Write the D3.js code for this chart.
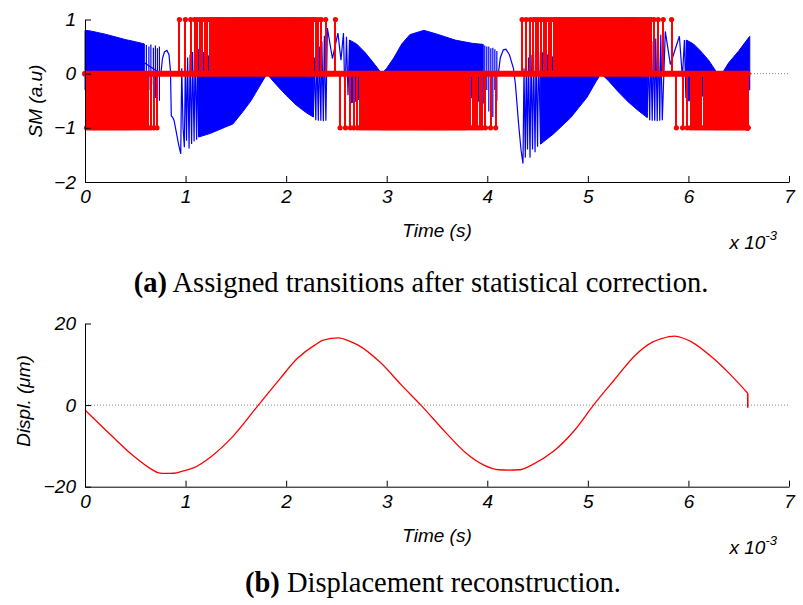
<!DOCTYPE html>
<html>
<head>
<meta charset="utf-8">
<script src="https://cdn.jsdelivr.net/npm/d3@7"></script>
<style>
  body { margin: 0; background: #fff; }
  svg { display: block; }
  .axis text { font-family: "Liberation Sans", Arial, sans-serif; font-style: italic; font-size: 19px; fill: #000; }
  .axis path, .axis line { stroke: #000; stroke-width: 1; }
  .lab { font-family: "Liberation Sans", Arial, sans-serif; font-style: italic; font-size: 19px; }
  .cap { font-family: "Liberation Serif", "Times New Roman", serif; font-size: 28.5px; }
</style>
</head>
<body>
<svg id="fig" width="803" height="605"></svg>
<script>
// ---- data (time in ms, shown as x 10^-3 s) ----
var timeTicks = [0, 1, 2, 3, 4, 5, 6, 7];
var smTicks = [-2, -1, 0, 1];
var displTicks = [-20, 0, 20];

// reconstructed displacement (um)
var dispT = [0, 0.26, 0.474, 0.647, 0.733, 0.797, 0.884, 0.97, 1.078, 1.25, 1.466, 1.724, 1.94, 2.11, 2.284, 2.37, 2.52,
  2.63, 2.716, 2.93, 3.147, 3.34, 3.578, 3.79, 3.966, 4.116, 4.22, 4.32, 4.44, 4.655, 4.87, 5.056, 5.26, 5.474,
  5.647, 5.733, 5.86, 5.97, 6.03, 6.25, 6.42, 6.59, 6.59];
var dispV = [-1.2, -7.4, -12.3, -15.5, -16.6, -16.75, -16.7, -16.2, -15.4, -12.7, -7.8, 0, 6.5, 11.4, 14.7, 15.9, 16.5,
  15.7, 14.7, 10.6, 4.9, 0, -6.5, -11.8, -14.7, -15.85, -15.95, -15.85, -14.7, -11.4, -6.1, 0, 6.1, 12.3,
  15.5, 16.3, 16.9, 16.2, 15.5, 11.4, 7.4, 2.9, -0.65];
// one transition = half a wavelength of displacement (um)
var fringeStep = 0.39;

// SM signal, dense parts: [t, upper, lower] envelope
var bandA = [[0, 0.80, -0.3], [0.05, 0.79, -0.3], [0.1, 0.77, -0.3], [0.2, 0.73, -0.3], [0.3, 0.68, -0.35], [0.4, 0.63, -0.45], [0.5, 0.59, -0.5], [0.59, 0.55, -0.5]];
var bandB = [[1.13, 0.45, -1.17], [1.25, 0.3, -1.10], [1.39, 0.2, -0.99], [1.47, 0.2, -0.93], [1.57, 0.2, -0.70], [1.65, 0.15, -0.50], [1.73, 0.1, -0.25], [1.81, 0, 0]];
var bandC = [[1.81, 0, 0], [1.83, 0.05, -0.05], [1.9, 0.1, -0.2], [2.0, 0.15, -0.4], [2.1, 0.2, -0.58], [2.2, 0.3, -0.72], [2.27, 0.3, -0.8]];
var bandD = [[2.63, 0.62, -0.55], [2.7, 0.55, -0.5], [2.78, 0.4, -0.4], [2.86, 0.22, -0.2], [2.95, 0, 0]];
var bandE = [[2.95, 0, 0], [3.0, 0.1, -0.1], [3.07, 0.29, -0.2], [3.15, 0.55, -0.2], [3.23, 0.72, -0.2], [3.37, 0.80, -0.2], [3.5, 0.73, -0.2], [3.68, 0.62, -0.3], [3.85, 0.56, -0.45], [3.96, 0.54, -0.55]];
var bandF = [[4.53, 0.4, -1.3], [4.66, 0.3, -1.11], [4.83, 0.2, -0.81], [4.99, 0.15, -0.44], [5.08, 0.1, -0.15], [5.13, 0, 0]];
var bandG = [[5.13, 0, 0], [5.2, 0.1, -0.12], [5.3, 0.15, -0.33], [5.4, 0.2, -0.52], [5.5, 0.3, -0.68], [5.59, 0.3, -0.81]];
var bandH = [[5.98, 0.62, -0.5], [6.05, 0.55, -0.5], [6.12, 0.42, -0.45], [6.2, 0.25, -0.3], [6.29, 0, 0]];
var bandI = [[6.29, 0, 0], [6.34, 0.02, -0.1], [6.4, 0.2, -0.2], [6.5, 0.42, -0.3], [6.58, 0.62, -0.3], [6.61, 0.69, -0.3]];

// single fringes that are still visible: [t, lower, upper]
var spikesA = [[0.61, -0.55, 0.53], [0.635, -0.3, 0.5], [0.655, -0.5, 0.54], [0.68, -0.2, 0.48], [0.70, -0.45, 0.52], [0.72, -0.3, 0.47], [0.74, -0.5, 0.5]];
var spikesE = [[3.975, -0.6, 0.52], [3.995, -0.3, 0.5], [4.015, -0.7, 0.5], [4.035, -0.2, 0.47], [4.055, -0.8, 0.48], [4.075, -0.3, 0.45], [4.095, -0.5, 0.42]];

// resolved stretches near the turning points: [t, value]
var trace1 = [[0.59, 0.2], [0.755, 0], [0.77, 0.28], [0.79, 0.40], [0.815, 0.43], [0.835, 0.35], [0.85, 0.05], [0.858, -0.78], [0.87, -0.8], [0.885, -0.86],
  [0.905, -1.05], [0.93, -1.3], [0.952, -1.48], [0.962, 0.1], [0.975, -1.0], [0.988, -1.36], [0.998, 0.2], [1.01, -1.24], [1.02, 0.3],
  [1.035, -1.38], [1.045, 0.35], [1.06, -1.3], [1.07, 0.4], [1.085, -1.25], [1.095, 0.45], [1.11, -1.22], [1.12, 0.45], [1.13, -1.17]];
var trace2 = [[2.27, -0.8], [2.28, 0.3], [2.295, -0.86], [2.305, 0.4], [2.32, -0.87], [2.33, 0.5], [2.345, -0.87], [2.355, 0.6], [2.37, -0.88],
  [2.38, 0.7], [2.395, -0.87], [2.41, 0.84], [2.46, 0.28], [2.515, 0.75], [2.545, 0.25], [2.57, 0.75], [2.585, -0.5], [2.60, 0.68],
  [2.615, -0.4], [2.63, 0.62]];
var trace3 = [[4.11, 0], [4.13, 0.3], [4.16, 0.44], [4.185, 0.45], [4.22, 0.35], [4.26, 0.1], [4.28, -0.2], [4.31, -0.9], [4.335, -1.4],
  [4.355, -1.66], [4.365, 0.1], [4.378, -1.55], [4.388, 0.2], [4.40, -1.4], [4.41, 0.3], [4.425, -1.55], [4.435, 0.35], [4.45, -1.4],
  [4.46, 0.4], [4.475, -1.45], [4.485, 0.4], [4.5, -1.35], [4.51, 0.4], [4.53, -1.3]];
var trace4 = [[5.59, -0.81], [5.60, 0.4], [5.615, -0.86], [5.625, 0.5], [5.64, -0.87], [5.65, 0.6], [5.665, -0.87], [5.675, 0.65],
  [5.69, -0.88], [5.70, 0.7], [5.715, -0.87], [5.725, 0.72], [5.74, -0.86], [5.77, 0.78], [5.82, 0.17], [5.91, 0.69],
  [5.94, -0.07], [5.96, 0.62], [5.975, -0.45], [5.98, 0.62]];

var svg = d3.select('#fig');
var BLUE = '#0000ff', RED = '#ff0000';

// transitions: every time the displacement moves by one fringe step
function getTransitions() {
  var out = [];
  for (var i = 1; i < dispT.length; i++) {
    var t0 = dispT[i - 1], t1 = dispT[i], v0 = dispV[i - 1], v1 = dispV[i];
    if (v1 === v0) continue;
    var k0 = Math.floor(v0 / fringeStep), k1 = Math.floor(v1 / fringeStep), k, lv;
    if (v1 > v0) {
      for (k = k0 + 1; k <= k1; k++) {
        lv = k * fringeStep;
        out.push({ t: t0 + (lv - v0) / (v1 - v0) * (t1 - t0), s: 1 });
      }
    } else {
      for (k = k0; k > k1; k--) {
        lv = k * fringeStep;
        out.push({ t: t0 + (lv - v0) / (v1 - v0) * (t1 - t0), s: -1 });
      }
    }
  }
  return out;
}

function drawAxes(g, x, y, yTicks) {
  g.append('g').attr('class', 'axis')
    .attr('transform', 'translate(0,' + y.range()[0] + ')')
    .call(d3.axisBottom(x).tickValues(timeTicks).tickFormat(d3.format('d'))
      .tickSizeInner(-6).tickSizeOuter(0).tickPadding(8));
  g.append('g').attr('class', 'axis')
    .attr('transform', 'translate(' + x.range()[0] + ',0)')
    .call(d3.axisLeft(y).tickValues(yTicks).tickFormat(d3.format('d'))
      .tickSizeInner(-6).tickSizeOuter(0).tickPadding(9));
}

function xLabels(g, x, yAxis) {
  var cx = (x.range()[0] + x.range()[1]) / 2;
  g.append('text').attr('class', 'lab').attr('x', cx).attr('y', yAxis + 55)
    .attr('text-anchor', 'middle').text('Time (s)');
  var e = g.append('text').attr('class', 'lab').attr('x', 777).attr('y', yAxis + 67)
    .attr('text-anchor', 'end');
  e.append('tspan').text('x 10');
  e.append('tspan').attr('dy', -9).attr('font-size', '13px').text('-3');
}

// ---------- panel (a) ----------
var xa = d3.scaleLinear().domain([0, 7]).range([85, 789]);
var ya = d3.scaleLinear().domain([-2, 1]).range([182, 19.5]);
var ga = svg.append('g');

ga.append('line').attr('x1', xa(0)).attr('x2', xa(7)).attr('y1', ya(0)).attr('y2', ya(0))
  .attr('stroke', '#888').attr('stroke-width', 1).attr('stroke-dasharray', '1,2');

var bandArea = d3.area().x(function (d) { return xa(d[0]); })
  .y0(function (d) { return ya(d[2]); }).y1(function (d) { return ya(d[1]); });
[bandA, bandB, bandC, bandD, bandE, bandF, bandG, bandH, bandI].forEach(function (b) {
  ga.append('path').datum(b).attr('d', bandArea)
    .attr('fill', BLUE).attr('stroke', BLUE).attr('stroke-width', 1);
});
ga.selectAll('line.spike').data(spikesA.concat(spikesE)).enter().append('line')
  .attr('class', 'spike')
  .attr('x1', function (d) { return xa(d[0]); }).attr('x2', function (d) { return xa(d[0]); })
  .attr('y1', function (d) { return ya(d[1]); }).attr('y2', function (d) { return ya(d[2]); })
  .attr('stroke', BLUE).attr('stroke-width', 1.2);
var traceLine = d3.line().x(function (d) { return xa(d[0]); }).y(function (d) { return ya(d[1]); });
[trace1, trace2, trace3, trace4].forEach(function (tr) {
  ga.append('path').datum(tr).attr('d', traceLine)
    .attr('fill', 'none').attr('stroke', BLUE).attr('stroke-width', 1.2);
});

// red stems with dot markers
var trans = getTransitions();
ga.selectAll('line.stem').data(trans).enter().append('line')
  .attr('class', 'stem')
  .attr('x1', function (d) { return xa(d.t); }).attr('x2', function (d) { return xa(d.t); })
  .attr('y1', ya(0)).attr('y2', function (d) { return ya(d.s); })
  .attr('stroke', RED).attr('stroke-width', 2).attr('shape-rendering', 'crispEdges');
ga.selectAll('circle.tip').data(trans).enter().append('circle')
  .attr('class', 'tip')
  .attr('cx', function (d) { return xa(d.t); }).attr('cy', function (d) { return ya(d.s); })
  .attr('r', 2.6).attr('fill', RED);
// zero-valued samples: dense markers form a thick band along the baseline
ga.append('line').attr('x1', xa(dispT[0])).attr('x2', xa(dispT[dispT.length - 1]))
  .attr('y1', ya(0)).attr('y2', ya(0)).attr('stroke', RED).attr('stroke-width', 6)
  .attr('stroke-linecap', 'round');

drawAxes(ga, xa, ya, smTicks);
xLabels(ga, xa, 182);
ga.append('text').attr('class', 'lab')
  .attr('transform', 'translate(42,101) rotate(-90)').attr('text-anchor', 'middle')
  .text('SM (a.u)');

var capA = svg.append('text').attr('class', 'cap').attr('x', 421).attr('y', 292).attr('text-anchor', 'middle');
capA.append('tspan').attr('font-weight', 'bold').text('(a)');
capA.append('tspan').text(' Assigned transitions after statistical correction.');

// ---------- panel (b) ----------
var yb = d3.scaleLinear().domain([-20, 20]).range([486.7, 323.5]);
var gb = svg.append('g');
gb.append('line').attr('x1', xa(0)).attr('x2', xa(7)).attr('y1', yb(0)).attr('y2', yb(0))
  .attr('stroke', '#888').attr('stroke-width', 1).attr('stroke-dasharray', '1,2');
var dispData = dispT.map(function (t, i) { return [t, dispV[i]]; });
var nD = dispData.length;
gb.append('path').datum(dispData.slice(0, nD - 1))
  .attr('d', d3.line().x(function (d) { return xa(d[0]); }).y(function (d) { return yb(d[1]); })
    .curve(d3.curveMonotoneX))
  .attr('fill', 'none').attr('stroke', RED).attr('stroke-width', 1.3);
// final drop of the reconstruction
gb.append('path').datum(dispData.slice(nD - 2))
  .attr('d', d3.line().x(function (d) { return xa(d[0]); }).y(function (d) { return yb(d[1]); }))
  .attr('fill', 'none').attr('stroke', RED).attr('stroke-width', 1.6);

drawAxes(gb, xa, yb, displTicks);
xLabels(gb, xa, 486.7);
gb.append('text').attr('class', 'lab')
  .attr('transform', 'translate(30,401) rotate(-90)').attr('text-anchor', 'middle')
  .text('Displ. (\u03bcm)');

var capB = svg.append('text').attr('class', 'cap').attr('x', 433).attr('y', 592).attr('text-anchor', 'middle');
capB.append('tspan').attr('font-weight', 'bold').text('(b)');
capB.append('tspan').text(' Displacement reconstruction.');
</script>
</body>
</html>
